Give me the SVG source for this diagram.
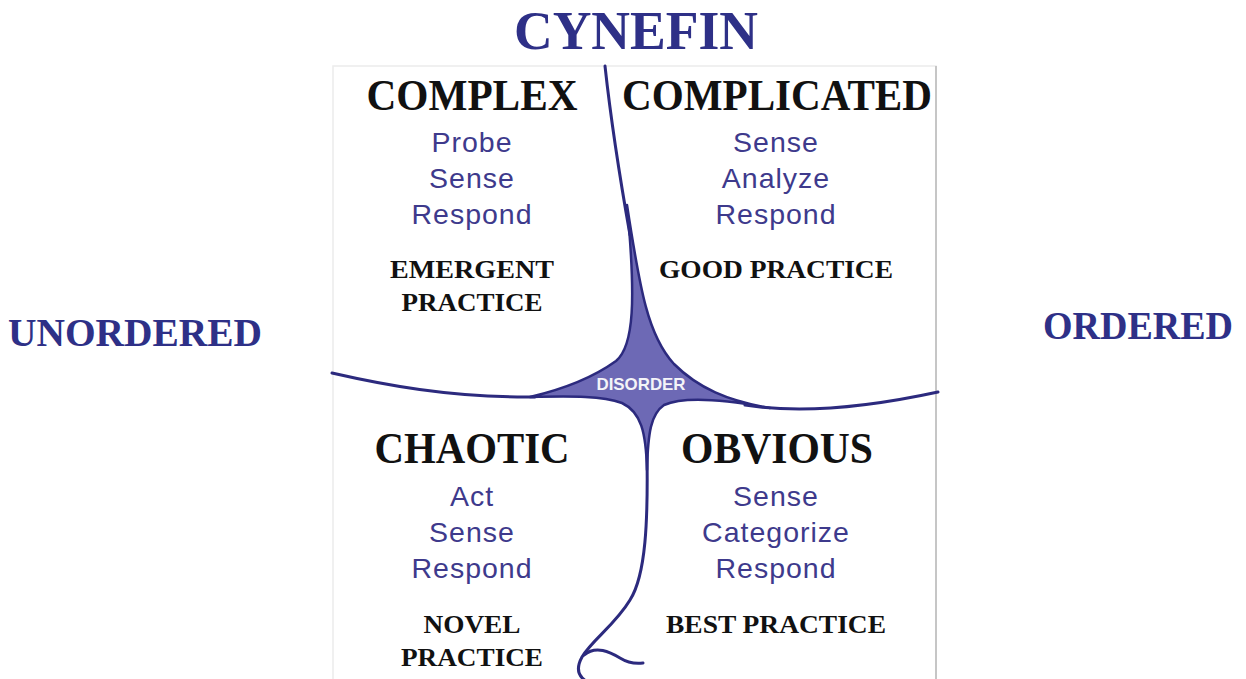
<svg xmlns="http://www.w3.org/2000/svg" width="1246" height="679" viewBox="0 0 1246 679">
<style>
.title{font-family:"Liberation Serif","DejaVu Serif",serif;font-weight:bold;fill:#2e3087;text-anchor:middle}
.dom{font-family:"Liberation Serif","DejaVu Serif",serif;font-weight:bold;fill:#111;font-size:44px;text-anchor:middle}
.step{font-family:"Liberation Sans",Arial,sans-serif;fill:#3e3a8c;font-size:28.5px;letter-spacing:1px;text-anchor:middle}
.prac{font-family:"Liberation Serif","DejaVu Serif",serif;font-weight:bold;fill:#111;font-size:25px;text-anchor:middle}
.line{fill:none;stroke:#2c2a7e;stroke-width:3;stroke-linecap:round}
</style>
<rect width="1246" height="679" fill="#ffffff"/>
<g id="frame">
<rect x="333" y="66" width="603" height="620" fill="none" stroke="#ececec" stroke-width="1.5"/>
<line x1="936" y1="66" x2="936" y2="679" stroke="#c6c6c6" stroke-width="2"/>
</g>
<g id="connectors">
<path class="line" d="M605,66 C612,130 622,190 630,235"/>
<path id="disorder-shape" d="M627,205 C640,290 648,336 674,364 C698,388 728,401 770,408 C722,399 684,396 664,405 C651,414 648,432 647,470 C646,432 641,412 622,403 C602,396 575,396 530,397 C568,388 598,374 616,361 C634,346 636,300 627,205 Z" fill="#6d69b5" stroke="#2c2a7e" stroke-width="2.5" stroke-linejoin="round"/>
<path class="line" d="M332,373 C380,384 450,398 535,397"/>
<path class="line" d="M745,405 C795,413 855,410 938,392"/>
<path class="line" d="M647,455 C648,520 646,575 630,600 C615,625 592,640 582,657 C576,668 578,676 586,681"/>
<path class="line" d="M584,655 C596,645 610,652 620,658 C628,663 635,664 643,663"/>
</g>
<g id="cynefin"><text class="title" x="636" y="49" font-size="54" textLength="244" lengthAdjust="spacingAndGlyphs">CYNEFIN</text></g>
<g id="unordered"><text class="title" x="135" y="346" font-size="40" textLength="254" lengthAdjust="spacingAndGlyphs">UNORDERED</text></g>
<g id="ordered"><text class="title" x="1138" y="339" font-size="40" textLength="190" lengthAdjust="spacingAndGlyphs">ORDERED</text></g>
<g id="disorder"><text x="641" y="390" font-family="Liberation Sans,Arial,sans-serif" font-weight="bold" font-size="17" fill="#f4f4f8" text-anchor="middle" textLength="89" lengthAdjust="spacingAndGlyphs">DISORDER</text></g>
<g id="complex">
<text class="dom" x="472" y="110" textLength="211" lengthAdjust="spacingAndGlyphs">COMPLEX</text>
<text class="step" x="472" y="152">Probe</text>
<text class="step" x="472" y="188">Sense</text>
<text class="step" x="472" y="224">Respond</text>
<text class="prac" x="472" y="278" textLength="164" lengthAdjust="spacingAndGlyphs">EMERGENT</text>
<text class="prac" x="472" y="311" textLength="141" lengthAdjust="spacingAndGlyphs">PRACTICE</text>
</g>
<g id="complicated">
<text class="dom" x="777" y="110" textLength="310" lengthAdjust="spacingAndGlyphs">COMPLICATED</text>
<text class="step" x="776" y="152">Sense</text>
<text class="step" x="776" y="188">Analyze</text>
<text class="step" x="776" y="224">Respond</text>
<text class="prac" x="776" y="278" textLength="234" lengthAdjust="spacingAndGlyphs">GOOD PRACTICE</text>
</g>
<g id="chaotic">
<text class="dom" x="472" y="463" textLength="195" lengthAdjust="spacingAndGlyphs">CHAOTIC</text>
<text class="step" x="472" y="506">Act</text>
<text class="step" x="472" y="542">Sense</text>
<text class="step" x="472" y="578">Respond</text>
<text class="prac" x="472" y="633" textLength="97" lengthAdjust="spacingAndGlyphs">NOVEL</text>
<text class="prac" x="472" y="666" textLength="142" lengthAdjust="spacingAndGlyphs">PRACTICE</text>
</g>
<g id="obvious">
<text class="dom" x="777" y="463" textLength="192" lengthAdjust="spacingAndGlyphs">OBVIOUS</text>
<text class="step" x="776" y="506">Sense</text>
<text class="step" x="776" y="542">Categorize</text>
<text class="step" x="776" y="578">Respond</text>
<text class="prac" x="776" y="633" textLength="220" lengthAdjust="spacingAndGlyphs">BEST PRACTICE</text>
</g>
</svg>
